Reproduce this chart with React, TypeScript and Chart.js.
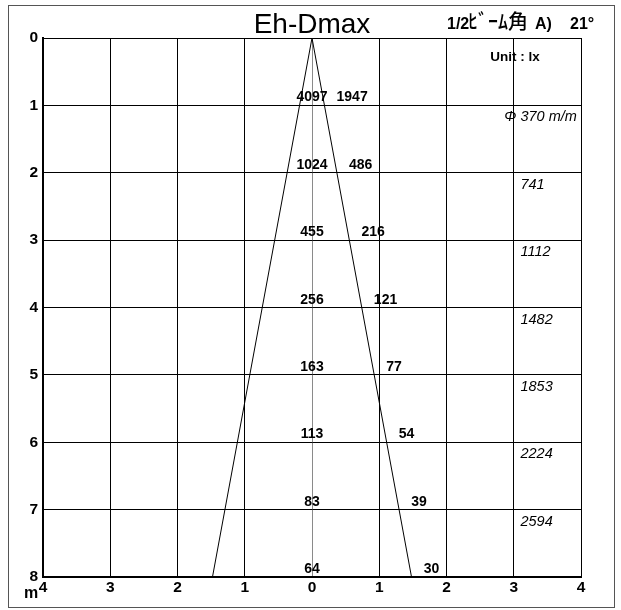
import React, { useEffect, useRef } from 'react';
import { Chart, registerables } from 'chart.js';

Chart.register(...registerables);

// ---- data ----
const depths = [1, 2, 3, 4, 5, 6, 7, 8];
const centerLux = [4097, 1024, 455, 256, 163, 113, 83, 64];
const edgeLux = [1947, 486, 216, 121, 77, 54, 39, 30];
const diameters = ['370', '741', '1112', '1482', '1853', '2224', '2594'];
const xTickValues = [-4, -3, -2, -1, 0, 1, 2, 3, 4];
const yTickValues = [0, 1, 2, 3, 4, 5, 6, 7, 8];
const coneDepth = 8;
const coneHalfWidth = 1.48;
const titleText = 'Eh-Dmax';
const beamLabelPrefix = '1/2';
const beamLabel = 'ﾋﾞｰﾑ角';
const beamLabelSuffix = 'A)';
const beamValue = '21°';
const unitLabel = 'Unit : lx';
const diameterPrefix = 'Φ';
const diameterUnit = 'm/m';
const axisUnit = 'm';

const FONT = '"Liberation Sans", Arial, "Noto Sans CJK JP", sans-serif';
const CJK = '"Noto Sans CJK JP", sans-serif';

const textPlugin = {
  id: 'textAnnotations',
  afterDraw(chart: any) {
    const { ctx } = chart;
    const x = chart.scales.x;
    const y = chart.scales.y;
    ctx.save();
    // outer frame
    ctx.strokeStyle = '#555';
    ctx.lineWidth = 1;
    ctx.strokeRect(8.5, 5.5, 606, 602);

    ctx.fillStyle = '#000';
    // title
    ctx.font = '28px ' + FONT;
    ctx.textAlign = 'center';
    ctx.textBaseline = 'alphabetic';
    ctx.fillText(titleText, x.getPixelForValue(0), 33);

    // beam angle
    ctx.textAlign = 'left';
    ctx.font = 'bold 16px ' + FONT;
    ctx.fillText(beamLabelPrefix, 447, 29);
    ctx.font = '500 20px ' + CJK;
    ctx.fillText(beamLabel, 468, 29);
    ctx.font = 'bold 16px ' + FONT;
    ctx.fillText(beamLabelSuffix, 535, 29);
    ctx.fillText(beamValue, 570, 29);

    // unit
    ctx.font = 'bold 13.5px ' + FONT;
    ctx.textAlign = 'center';
    ctx.fillText(unitLabel, x.getPixelForValue(3.02), 61);

    // center and edge lux values
    depths.forEach((d, i) => {
      const py = y.getPixelForValue(d) - 4;
      ctx.font = 'bold 14px ' + FONT;
      ctx.textAlign = 'center';
      ctx.fillText(String(centerLux[i]), x.getPixelForValue(0), py);
      ctx.textAlign = 'left';
      const edgeX = (coneHalfWidth * d) / coneDepth + 0.18;
      ctx.fillText(String(edgeLux[i]), x.getPixelForValue(edgeX), py);
    });

    // diameters
    ctx.font = 'italic 14.5px ' + FONT;
    diameters.forEach((dm, i) => {
      const py = y.getPixelForValue(depths[i]) + 16;
      const px = x.getPixelForValue(3.1);
      ctx.textAlign = 'left';
      if (i === 0) {
        ctx.fillText(dm + ' ' + diameterUnit, px, py);
        ctx.textAlign = 'right';
        ctx.fillText(diameterPrefix, px - 4, py);
      } else {
        ctx.fillText(dm, px, py);
      }
    });

    // axis unit
    ctx.font = 'bold 16px ' + FONT;
    ctx.textAlign = 'center';
    ctx.fillText(axisUnit, 31, 598);
    ctx.restore();
  },
};

export default function App() {
  const ref = useRef<HTMLCanvasElement | null>(null);
  useEffect(() => {
    if (!ref.current) return;
    const chart = new Chart(ref.current, {
      type: 'scatter',
      data: {
        datasets: [
          {
            data: [
              { x: -coneHalfWidth, y: coneDepth },
              { x: 0, y: 0 },
              { x: coneHalfWidth, y: coneDepth },
            ],
            showLine: true,
            borderColor: '#000',
            borderWidth: 1,
            pointRadius: 0,
            fill: false,
          },
        ],
      },
      options: {
        animation: false,
        responsive: false,
        layout: { padding: { left: 8, top: 38, right: 40, bottom: 0 } },
        plugins: { legend: { display: false }, tooltip: { enabled: false }, title: { display: false } },
        scales: {
          x: {
            type: 'linear',
            min: -4,
            max: 4,
            afterFit: (s: any) => { s.height = 33; },
            afterBuildTicks: (s: any) => { s.ticks = xTickValues.map((v) => ({ value: v })); },
            ticks: {
              padding: 1,
              color: '#000',
              font: { family: FONT, size: 15.5, weight: 'bold' },
              callback: (v: any) => String(Math.abs(Number(v))),
            },
            grid: {
              drawTicks: false,
              color: (c: any) => (c.tick && c.tick.value === 0 ? '#8a8a8a' : '#000'),
              lineWidth: 1,
            },
            border: { display: true, color: '#000', width: 2 },
          },
          y: {
            type: 'linear',
            min: 0,
            max: 8,
            reverse: true,
            afterFit: (s: any) => { s.width = 35; },
            afterBuildTicks: (s: any) => { s.ticks = yTickValues.map((v) => ({ value: v })); },
            ticks: {
              padding: 5,
              color: '#000',
              font: { family: FONT, size: 15.5, weight: 'bold' },
            },
            grid: { drawTicks: false, color: '#000', lineWidth: 1 },
            border: { display: true, color: '#000', width: 2 },
          },
        },
      },
      plugins: [textPlugin],
    });
    return () => chart.destroy();
  }, []);
  return (
    <div style={{ position: 'absolute', left: 0, top: 0, width: 621, height: 610, background: '#fff' }}>
      <canvas ref={ref} width={621} height={610} />
    </div>
  );
}
